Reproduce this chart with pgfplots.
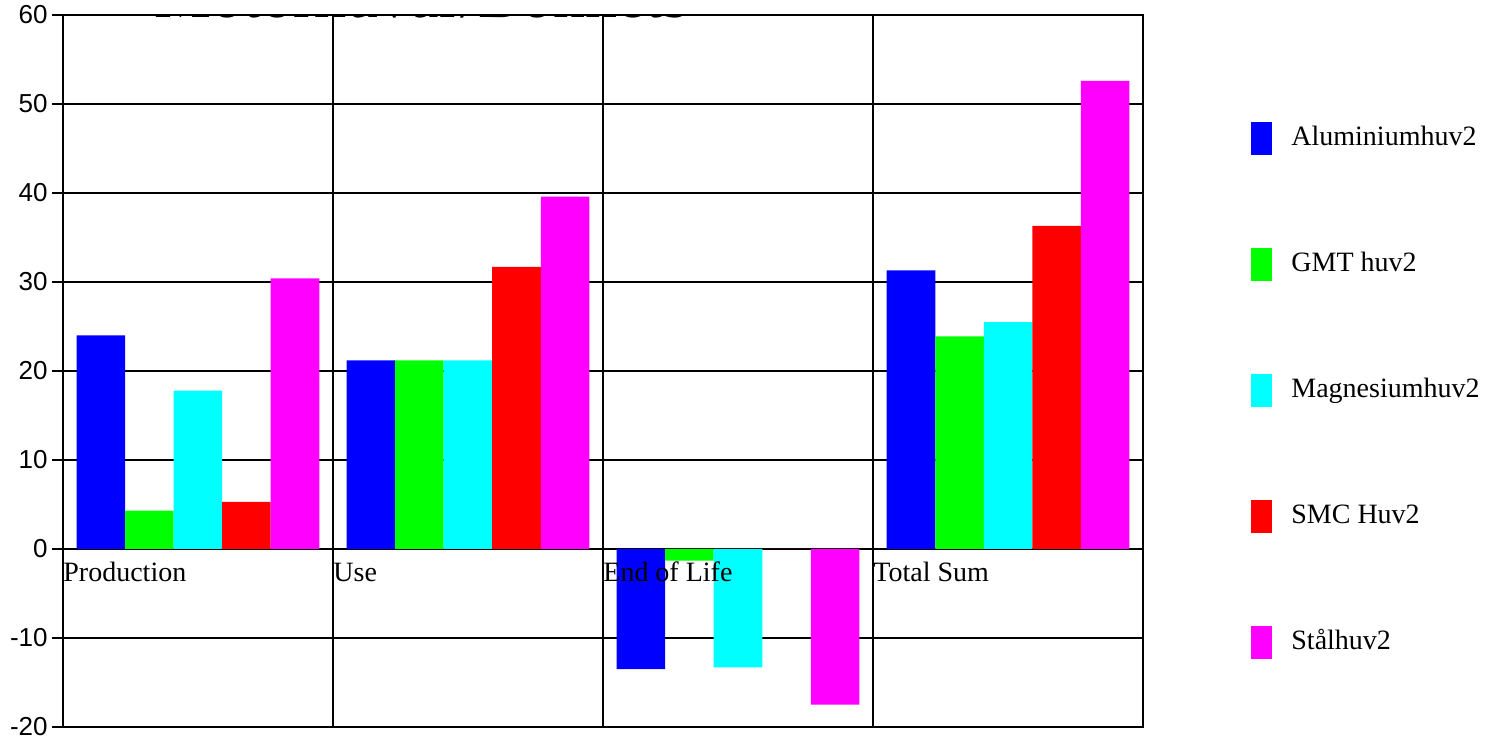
\documentclass[border=0pt]{standalone}
\usepackage{pgfplots}
\pgfplotsset{compat=1.18}
\usepackage{fontspec}
\setmainfont{Liberation Serif}
\newfontfamily\sansf{Liberation Sans}
\definecolor{cB}{RGB}{0,0,255}
\definecolor{cG}{RGB}{0,255,0}
\definecolor{cC}{RGB}{0,255,255}
\definecolor{cR}{RGB}{255,0,0}
\definecolor{cM}{RGB}{255,0,255}
\begin{document}
\begin{tikzpicture}
\begin{axis}[
  at={(0pt,0pt)}, anchor=south west,
  scale only axis, width=540pt, height=356pt,
  ybar=0pt, bar width=24.25pt,
  legend image code/.code={\fill[#1] (0pt,-8.25pt) rectangle (10.5pt,8.25pt);},
  xmin=-0.5, xmax=3.5, ymin=-20, ymax=60,
  xtick={-0.5,0.5,1.5,2.5,3.5}, xticklabels={},
  xtick style={draw=none},
  ytick={-20,-10,...,60},
  ytick pos=left, tick align=outside, major tick length=5.5pt,
  ymajorgrids, xmajorgrids,
  major grid style={black, line width=0.9pt},
  axis line style={black, line width=1pt},
  ytick style={black, line width=0.9pt},
  yticklabel style={font=\sansf\fontsize{13}{15}\selectfont, inner sep=2pt},
  /pgf/number format/assume math mode=true,
  legend style={draw=none, fill=none, at={(rel axis cs:1.1,0.85)}, anchor=north west,
    inner sep=0pt, row sep=46.5pt, font=\fontsize{14}{16}\selectfont,
    nodes={inner sep=0pt, text height=10pt, text depth=3pt},
    /tikz/every odd column/.append style={column sep=9.5pt}},
  legend cell align=left,
]
\addplot[fill=cB, draw=none] coordinates {(0,24.0) (1,21.2) (2,-13.5) (3,31.3)};
\addplot[fill=cG, draw=none] coordinates {(0,4.3) (1,21.2) (2,-1.3) (3,23.9)};
\addplot[fill=cC, draw=none] coordinates {(0,17.8) (1,21.2) (2,-13.3) (3,25.5)};
\addplot[fill=cR, draw=none] coordinates {(0,5.3) (1,31.7) (2,0) (3,36.3)};
\addplot[fill=cM, draw=none] coordinates {(0,30.4) (1,39.6) (2,-17.5) (3,52.6)};
\legend{Aluminiumhuv2, GMT huv2, Magnesiumhuv2, SMC Huv2, Stålhuv2}
\node[anchor=base west, inner sep=0pt, font=\fontsize{14}{16}\selectfont] at (axis cs:-0.5,-3.7) {Production};
\node[anchor=base west, inner sep=0pt, font=\fontsize{14}{16}\selectfont] at (axis cs:0.5,-3.7) {Use};
\node[anchor=base west, inner sep=0pt, font=\fontsize{14}{16}\selectfont] at (axis cs:1.5,-3.7) {End of Life};
\node[anchor=base west, inner sep=0pt, font=\fontsize{14}{16}\selectfont] at (axis cs:2.5,-3.7) {Total Sum};
\node[anchor=base, inner sep=0pt, font=\fontsize{32}{36}\selectfont] at (axis cs:0.828,59.7) {Motorhuvar/Bonnets};
\end{axis}
\pgfresetboundingbox
\useasboundingbox (-31.5pt,-5.5pt) rectangle (713.5pt,363.5pt);
\end{tikzpicture}
\end{document}
